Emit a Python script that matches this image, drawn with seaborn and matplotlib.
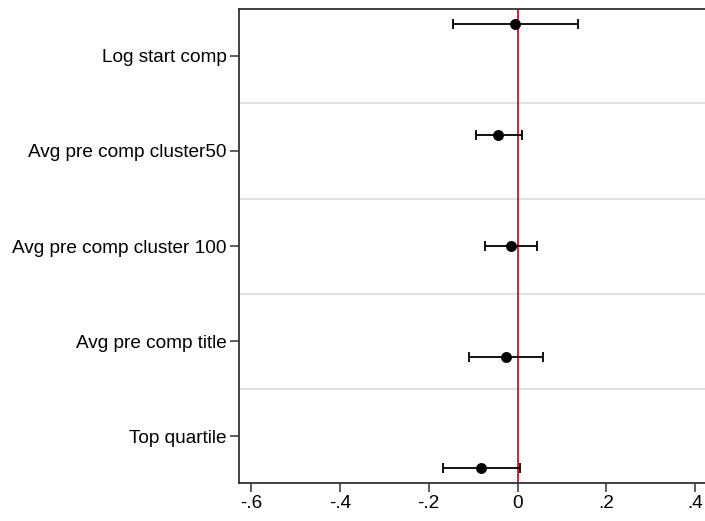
import matplotlib
matplotlib.use("Agg")
import matplotlib.pyplot as plt
import seaborn as sns
import pandas as pd
import numpy as np
from matplotlib.ticker import FixedLocator, FixedFormatter

# Data
categories = ["Log start comp", "Avg pre comp cluster50", "Avg pre comp cluster 100",
              "Avg pre comp title", "Top quartile"]
coef = [-0.005, -0.043, -0.014, -0.027, -0.082]
ci_low = [-0.145, -0.094, -0.073, -0.110, -0.168]
ci_high = [0.137, 0.010, 0.044, 0.057, 0.005]
model_offset = [-1/3, -1/6, 0.0, 1/6, 1/3]
xticks = [-0.6, -0.4, -0.2, 0.0, 0.2, 0.4]
xticklabels = ["-.6", "-.4", "-.2", "0", ".2", ".4"]

sns.set_style("white")
plt.rcParams['font.family'] = ['Liberation Sans', 'DejaVu Sans']

pos = np.arange(1, len(categories) + 1)
df = pd.DataFrame({
    "cat": categories,
    "coef": coef,
    "lo": ci_low,
    "hi": ci_high,
    "y": pos + np.array(model_offset),
})

fig = plt.figure(figsize=(7.05, 5.21), dpi=100)
ax = fig.add_axes([0.339, 0.0735, 0.663, 0.9085])

# gridlines between categories
for g in pos[:-1] + 0.5:
    ax.axhline(g, color="#dddddd", lw=1.3, zorder=0)

ax.axvline(0, color="#c8102e", lw=1.3, zorder=1)

ax.errorbar(df["coef"], df["y"],
            xerr=[df["coef"] - df["lo"], df["hi"] - df["coef"]],
            fmt="none", ecolor="black", elinewidth=1.3, capsize=3.4, capthick=1.3, zorder=2)
sns.scatterplot(data=df, x="coef", y="y", ax=ax, color="black", s=62,
                edgecolor="black", linewidth=0, zorder=3, legend=False)

ax.set_xlim(-0.627, 0.425)
ax.set_ylim(5.49, 0.51)
ax.xaxis.set_major_locator(FixedLocator(xticks))
ax.xaxis.set_major_formatter(FixedFormatter(xticklabels))
ax.yaxis.set_major_locator(FixedLocator(pos))
ax.yaxis.set_major_formatter(FixedFormatter(categories))
ax.set_xlabel("")
ax.set_ylabel("")

for side in ["left", "bottom", "top", "right"]:
    ax.spines[side].set_color("#333333")
    ax.spines[side].set_linewidth(1.3)
ax.tick_params(axis="both", which="major", length=6.2, width=1.1, color="#333333",
               labelsize=13.7, labelcolor="black", direction="out")
ax.tick_params(axis="y", pad=2.5, left=True)
ax.tick_params(axis="x", pad=2.5, bottom=True)

fig.savefig("out.png", dpi=100)
